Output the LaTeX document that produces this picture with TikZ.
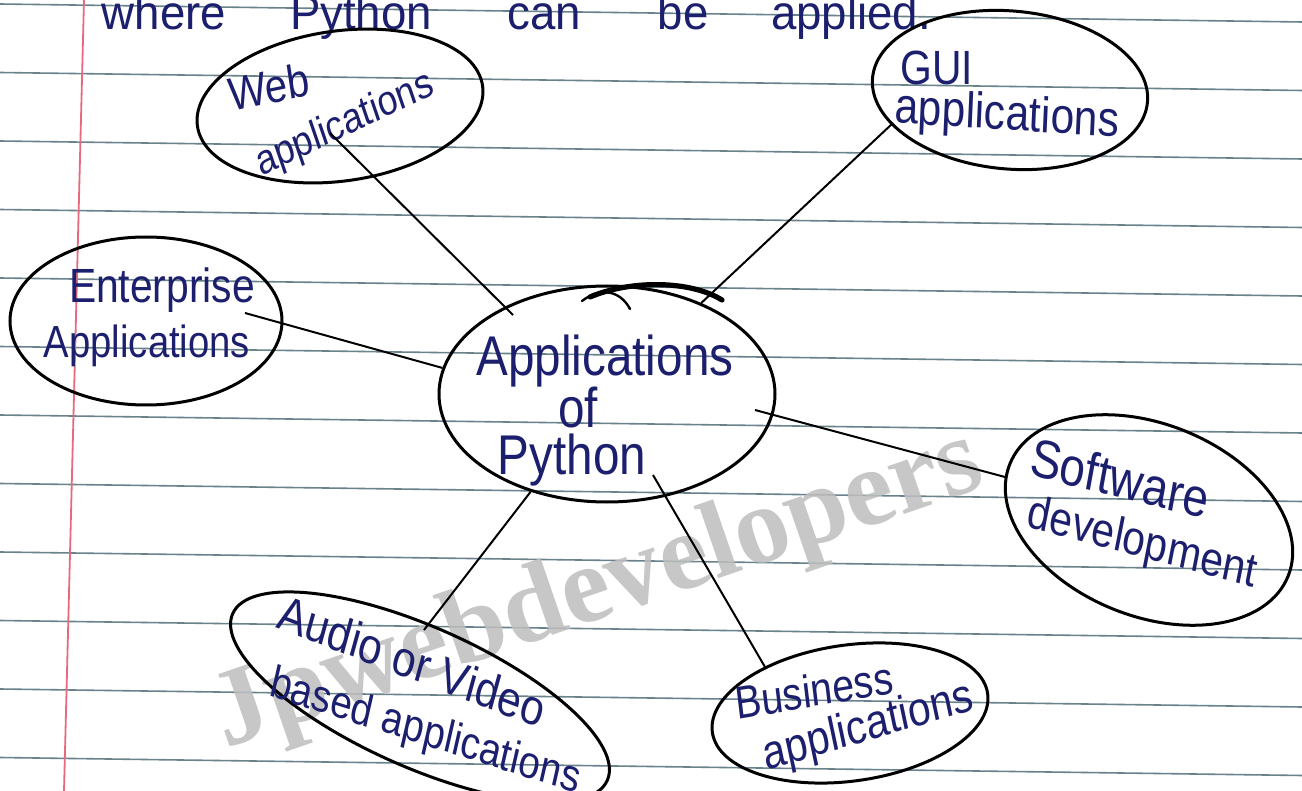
\documentclass[tikz,border=0pt]{standalone}
\usepackage{fontspec}
\setmainfont{Liberation Sans}
\newfontfamily\wmfont{Liberation Serif}
\usetikzlibrary{shapes.geometric,calc}
\definecolor{ink}{RGB}{28,30,110}
\definecolor{ruling}{RGB}{105,130,140}
\definecolor{marginred}{RGB}{230,105,125}
\definecolor{wmgray}{RGB}{190,190,190}
\begin{document}
\begin{tikzpicture}[x=0.5pt,y=-0.5pt,
  bub/.style={draw=black, line width=1.5pt, ellipse, inner sep=0pt},
  lbl/.style={text=ink, inner sep=0pt, xscale=0.85},
  ctr/.style={text=ink, inner sep=0pt, xscale=0.85, anchor=base, font=\fontsize{28}{28}\selectfont},
  toptxt/.style={text=ink, inner sep=0pt, xscale=0.95, anchor=base, font=\fontsize{24}{24}\selectfont},
  link/.style={line width=1pt, draw=black},
]
\useasboundingbox (0,0) rectangle (1302,791);
\clip (0,0) rectangle (1302,791);
\fill[white] (0,0) rectangle (1302,791);
% paper ruling
\foreach \k in {0,...,11}
  \draw[ruling, line width=0.8pt] (0,{4+68.5*\k}) -- (1302,{22+68.5*\k});
\draw[marginred, line width=0.9pt] (84,0) -- (64,791);
% watermark
\node[text=wmgray, opacity=0.85, inner sep=0pt, anchor=base, rotate=19,
      font=\wmfont\bfseries\fontsize{55}{55}\selectfont] (wmk) at (607,617) {Jpwebdevelopers};
% heading (partly cut off at the top, as on the page)
\node[toptxt] (h1) at (164,30) {where};
\node[toptxt] (h2) at (361,30) {Python};
\node[toptxt] (h3) at (544,30) {can};
\node[toptxt] (h4) at (683,30) {be};
\node[toptxt] (h5) at (851,30) {applied.};
% bubbles
\node[bub, minimum width=168pt, minimum height=108pt] (c) at (607,394) {};
\node[bub, minimum width=144pt, minimum height=75pt, rotate=8] (web) at (340,106) {};
\node[bub, minimum width=138pt, minimum height=79pt, rotate=-5] (gui) at (1010,90) {};
\node[bub, minimum width=136pt, minimum height=84pt] (ent) at (146,321) {};
\node[bub, minimum width=150pt, minimum height=96pt, rotate=-22] (soft) at (1149,520) {};
\node[bub, minimum width=205pt, minimum height=70pt, rotate=-24] (aud) at (420,697) {};
\node[bub, minimum width=139pt, minimum height=68pt, rotate=8] (bus) at (850,713) {};
% scribble on top of the centre bubble
\draw[line width=2.6pt, line cap=round] (590,297) .. controls (630,280) and (690,280) .. (722,300);
\draw[line width=1.2pt, line cap=round] (582,301) .. controls (600,287) and (620,290) .. (630,309);
% labels
\node[ctr] (cA) at (605,376) {Applications};
\node[ctr] (cB) at (578,428) {of};
\node[ctr] (cC) at (572,474) {Python};
\node[lbl, font=\fontsize{23.5}{24}\selectfont, rotate=10] (tWeb) at (269,87) {Web};
\node[lbl, font=\fontsize{21}{22}\selectfont, rotate=22] (tWebA) at (345,125) {applications};
\node[lbl, font=\fontsize{24}{24}\selectfont] (tGui) at (937,68) {GUI};
\node[lbl, font=\fontsize{25}{25}\selectfont, rotate=-3] (tGuiA) at (1007,117) {applications};
\node[lbl, font=\fontsize{24}{24}\selectfont] (tEnt) at (162,290) {Enterprise};
\node[lbl, font=\fontsize{22.5}{23}\selectfont] (tEntA) at (147,346) {Applications};
\node[lbl, font=\fontsize{27}{27}\selectfont, rotate=-12] (tSoft) at (1120,478) {Software};
\node[lbl, font=\fontsize{24}{24}\selectfont, rotate=-13] (tSoftA) at (1142,545) {development};
\node[lbl, font=\fontsize{25}{25}\selectfont, rotate=-18] (tAud) at (412,661) {Audio or Video};
\node[lbl, font=\fontsize{22.7}{23}\selectfont, rotate=-15] (tAudA) at (425,733) {based applications};
\node[lbl, font=\fontsize{23}{23}\selectfont, rotate=8] (tBus) at (814,690) {Business};
\node[lbl, font=\fontsize{24}{24}\selectfont, rotate=14] (tBusA) at (868,728) {applications};
% connectors
\draw[link] ([shift={(-94,-79)}]c.center) -- ([shift={(-10,27)}]web.center);
\draw[link] (c.44) -- ([shift={(-117,33)}]gui.center);
\draw[link] (c.171) -- ([shift={(99,-8)}]ent.center);
\draw[link] ([shift={(148,16)}]c.center) -- ([shift={(-144,-43)}]soft.center);
\draw[link] (c.232) -- ([shift={(4,-67)}]aud.center);
\draw[link] ([shift={(46,81)}]c.center) -- ([shift={(-85,-46)}]bus.center);
\end{tikzpicture}
\end{document}
